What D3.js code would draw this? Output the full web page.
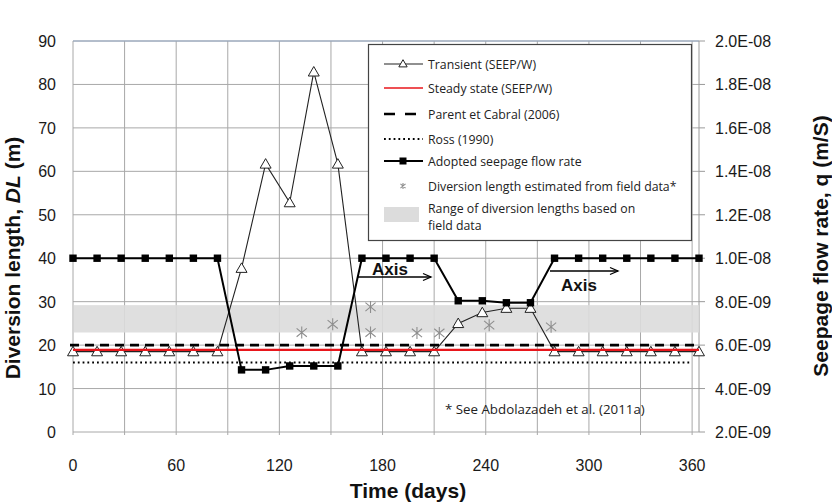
<!DOCTYPE html>
<html>
<head>
<meta charset="utf-8">
<script src="https://cdn.jsdelivr.net/npm/d3@7"></script>
<style>
  body { margin: 0; background: #fff; }
  svg { display: block; }
  .tick-lbl { font-family: "Liberation Sans", Arial, sans-serif; font-size: 16px; fill: #1a1a1a; }
  .ax-title { font-family: "Liberation Sans", Arial, sans-serif; font-size: 21px; font-weight: bold; fill: #111; }
  .leg { font-family: "Open Sans", Lato, sans-serif; font-size: 12.3px; fill: #222; }
</style>
</head>
<body>
<svg id="chart" width="832" height="503"></svg>
<script>
// time axis (days), each step of the simulation
const days = [0, 14, 28, 42, 56, 70, 84, 98, 112, 126, 140, 154, 168, 182, 196, 210, 224, 238, 252, 266, 280, 294, 308, 322, 336, 350, 364]
// transient (SEEP/W) diversion length, m
const transientDL = [18.5, 18.5, 18.5, 18.5, 18.5, 18.5, 18.5, 37.7, 61.7, 52.8, 82.9, 61.7, 18.5, 18.5, 18.5, 18.5, 25.0, 27.5, 28.5, 28.5, 18.5, 18.5, 18.5, 18.5, 18.5, 18.5, 18.5]
// adopted seepage flow rate, m/s (right axis)
const adoptedQ = [1.0e-8, 1.0e-8, 1.0e-8, 1.0e-8, 1.0e-8, 1.0e-8, 1.0e-8, 4.86e-9, 4.86e-9, 5.04e-9, 5.04e-9, 5.04e-9, 1.0e-8, 1.0e-8, 1.0e-8, 1.0e-8, 8.04e-9, 8.04e-9, 7.95e-9, 7.95e-9, 1.0e-8, 1.0e-8, 1.0e-8, 1.0e-8, 1.0e-8, 1.0e-8, 1.0e-8]
// constant solutions
const steadyDL = 18.9
const parentDL = 20
const rossDL = 16
const rossEnd = 360
// field estimates
const fieldDays = [133, 151, 173, 173, 200, 213, 242, 278]
const fieldDL = [22.9, 24.8, 28.8, 22.9, 22.8, 22.8, 24.6, 24.2]
const fieldRange = [22.9, 29.2]
// ticks
const xTicks = [0, 60, 120, 180, 240, 300, 360]
const xGrid = [0, 30, 60, 90, 120, 150, 180, 210, 240, 270, 300, 330, 360]
const yTicks = [0, 10, 20, 30, 40, 50, 60, 70, 80, 90]
const qTicks = [2e-9, 4e-9, 6e-9, 8e-9, 1e-8, 1.2e-8, 1.4e-8, 1.6e-8, 1.8e-8, 2e-8]
const legendItems = ["Transient (SEEP/W)", "Steady state (SEEP/W)", "Parent et Cabral (2006)", "Ross (1990)", "Adopted seepage flow rate", "Diversion length estimated from field data*"]

const svg = d3.select("#chart")
const L = 73, R = 699, T = 41, B = 432

const x = d3.scaleLinear().domain([0, 364]).range([L, R])
const y = d3.scaleLinear().domain([0, 90]).range([B, T])
const yq = d3.scaleLinear().domain([2e-9, 2e-8]).range([B, T])

function fmtE(v) {
  var m = v.toExponential(1).toUpperCase().match(/^(.*)E([-+])(\d+)$/)
  return m[1] + "E" + m[2] + m[3].padStart(2, "0")
}

// grid
var grid = svg.append("g")
grid.selectAll(".vg").data(xGrid).enter().append("line")
  .attr("x1", d => x(d)).attr("x2", d => x(d)).attr("y1", T).attr("y2", B + 3)
  .attr("stroke", "#a8a8a8").attr("stroke-width", 1)
grid.selectAll(".hg").data(yTicks).enter().append("line")
  .attr("x1", L).attr("x2", R).attr("y1", d => y(d)).attr("y2", d => y(d))
  .attr("stroke", "#a8a8a8").attr("stroke-width", 1)
grid.append("line").attr("x1", L).attr("x2", R).attr("y1", T).attr("y2", T).attr("stroke", "#94a8c4")
grid.append("line").attr("x1", R).attr("x2", R).attr("y1", T).attr("y2", B).attr("stroke", "#9a9a9a")

// field range band
svg.append("rect").attr("x", L + 1).attr("width", R - L - 1)
  .attr("y", y(fieldRange[1])).attr("height", y(fieldRange[0]) - y(fieldRange[1]))
  .attr("fill", "#dcdcdc").attr("opacity", 0.9)

// right axis ticks
svg.selectAll(".rt").data(qTicks).enter().append("line")
  .attr("x1", R).attr("x2", R + 6).attr("y1", d => yq(d)).attr("y2", d => yq(d))
  .attr("stroke", "#9a9a9a")

// transient line + triangles
const lineDL = d3.line().x((d, i) => x(days[i])).y(d => y(d))
svg.append("path").datum(transientDL).attr("d", lineDL)
  .attr("fill", "none").attr("stroke", "#222").attr("stroke-width", 1.1)
const tri = d3.symbol().type(d3.symbolTriangle).size(52)
svg.selectAll(".tri").data(transientDL).enter().append("path")
  .attr("d", tri).attr("transform", (d, i) => "translate(" + x(days[i]) + "," + (y(d) + 1) + ")")
  .attr("fill", "#fff").attr("stroke", "#222").attr("stroke-width", 1)

// constant lines
svg.append("line").attr("x1", x(0)).attr("x2", x(364)).attr("y1", y(steadyDL)).attr("y2", y(steadyDL))
  .attr("stroke", "#e8161b").attr("stroke-width", 2.2)
svg.append("line").attr("x1", x(0) - 3).attr("x2", x(364)).attr("y1", y(parentDL)).attr("y2", y(parentDL))
  .attr("stroke", "#000").attr("stroke-width", 2.6).attr("stroke-dasharray", "9,6")
svg.append("line").attr("x1", x(0)).attr("x2", x(rossEnd)).attr("y1", y(rossDL)).attr("y2", y(rossDL))
  .attr("stroke", "#000").attr("stroke-width", 1.8).attr("stroke-dasharray", "1.8,3")

// adopted seepage line + squares
const lineQ = d3.line().x((d, i) => x(days[i])).y(d => yq(d))
svg.append("path").datum(adoptedQ).attr("d", lineQ)
  .attr("fill", "none").attr("stroke", "#000").attr("stroke-width", 2)
svg.selectAll(".sq").data(adoptedQ).enter().append("rect")
  .attr("x", (d, i) => x(days[i]) - 3.7).attr("y", d => yq(d) - 3.7)
  .attr("width", 7.4).attr("height", 7.4).attr("fill", "#000")

// field stars
function star(g, cx, cy, s) {
  g.append("path")
    .attr("d", "M" + cx + "," + (cy - s) + "L" + cx + "," + (cy + s) +
      "M" + (cx - s * 0.85) + "," + (cy - s * 0.7) + "L" + (cx + s * 0.85) + "," + (cy + s * 0.7) +
      "M" + (cx - s * 0.85) + "," + (cy + s * 0.7) + "L" + (cx + s * 0.85) + "," + (cy - s * 0.7))
    .attr("stroke", "#8e8e8e").attr("stroke-width", 1.1).attr("fill", "none")
}
fieldDays.forEach((d, i) => star(svg, x(d), y(fieldDL[i]), 6))

// left ticks
svg.selectAll(".yl").data(yTicks).enter().append("text").attr("class", "tick-lbl")
  .attr("x", 56).attr("y", d => y(d) + 6).attr("text-anchor", "end").text(d => d)
// right ticks
svg.selectAll(".ql").data(qTicks).enter().append("text").attr("class", "tick-lbl")
  .attr("x", 715).attr("y", d => yq(d) + 6).text(d => fmtE(d))
// bottom ticks
svg.selectAll(".xl").data(xTicks).enter().append("text").attr("class", "tick-lbl")
  .attr("x", d => x(d)).attr("y", 471).attr("text-anchor", "middle").text(d => d)

// axis titles
svg.append("text").attr("class", "ax-title").attr("x", 408).attr("y", 498)
  .attr("text-anchor", "middle").text("Time (days)")
var yt = svg.append("text").attr("class", "ax-title").attr("text-anchor", "middle")
  .attr("transform", "translate(20,258) rotate(-90)")
yt.append("tspan").text("Diversion length, ")
yt.append("tspan").style("font-style", "italic").text("DL")
yt.append("tspan").text(" (m)")
svg.append("text").attr("class", "ax-title").attr("text-anchor", "middle")
  .attr("transform", "translate(828,246) rotate(-90)").text("Seepage flow rate, q (m/S)")

// Axis annotations
function arrow(x1, x2, yy) {
  svg.append("line").attr("x1", x1).attr("x2", x2).attr("y1", yy).attr("y2", yy)
    .attr("stroke", "#000").attr("stroke-width", 1.3)
  svg.append("path").attr("d", "M" + (x2 - 8) + "," + (yy - 3.5) + "L" + x2 + "," + yy + "L" + (x2 - 8) + "," + (yy + 3.5))
    .attr("stroke", "#000").attr("stroke-width", 1.3).attr("fill", "none")
}
svg.append("text").attr("class", "ax-title").style("font-size", "17px").attr("x", 372).attr("y", 275).text("Axis")
arrow(358, 431, 277)
svg.append("text").attr("class", "ax-title").style("font-size", "17px").attr("x", 561).attr("y", 291).text("Axis")
arrow(550, 618, 271)

// footnote
svg.append("text").attr("class", "leg").style("font-size", "13.3px").attr("x", 445).attr("y", 414)
  .text("* See Abdolazadeh et al. (2011a)")

// legend
var lg = svg.append("g")
lg.append("rect").attr("x", 368.5).attr("y", 44.5).attr("width", 323).attr("height", 196)
  .attr("fill", "#fff").attr("stroke", "#444").attr("stroke-width", 1.2)
const lx1 = 384, lx2 = 423, lxm = 403, ltx = 428
const lys = [64, 88, 114, 139, 161, 186]
lg.selectAll(".lt").data(legendItems).enter().append("text").attr("class", "leg")
  .attr("x", ltx).attr("y", (d, i) => lys[i] + 4.5).text(d => d)
lg.append("line").attr("x1", lx1).attr("x2", lx2).attr("y1", lys[0]).attr("y2", lys[0]).attr("stroke", "#222").attr("stroke-width", 1.1)
lg.append("path").attr("d", d3.symbol().type(d3.symbolTriangle).size(30)).attr("transform", "translate(" + lxm + "," + (lys[0] + 0.5) + ")")
  .attr("fill", "#fff").attr("stroke", "#222")
lg.append("line").attr("x1", lx1).attr("x2", lx2).attr("y1", lys[1]).attr("y2", lys[1]).attr("stroke", "#e8161b").attr("stroke-width", 1.6)
lg.append("line").attr("x1", lx1).attr("x2", lx2 + 1).attr("y1", lys[2]).attr("y2", lys[2]).attr("stroke", "#000").attr("stroke-width", 2.6).attr("stroke-dasharray", "11,10")
lg.append("line").attr("x1", lx1).attr("x2", lx2).attr("y1", lys[3]).attr("y2", lys[3]).attr("stroke", "#000").attr("stroke-width", 1.8).attr("stroke-dasharray", "1.8,3")
lg.append("line").attr("x1", lx1).attr("x2", lx2).attr("y1", lys[4]).attr("y2", lys[4]).attr("stroke", "#000").attr("stroke-width", 2)
lg.append("rect").attr("x", lxm - 3.5).attr("y", lys[4] - 3.5).attr("width", 7).attr("height", 7).attr("fill", "#000")
star(lg, lxm, lys[5], 3)
lg.append("rect").attr("x", 384).attr("y", 207).attr("width", 35).attr("height", 15).attr("fill", "#dcdcdc")
lg.append("text").attr("class", "leg").attr("x", ltx).attr("y", 213).text("Range of diversion lengths based on")
lg.append("text").attr("class", "leg").attr("x", ltx).attr("y", 229.5).text("field data")
</script>
</body>
</html>
